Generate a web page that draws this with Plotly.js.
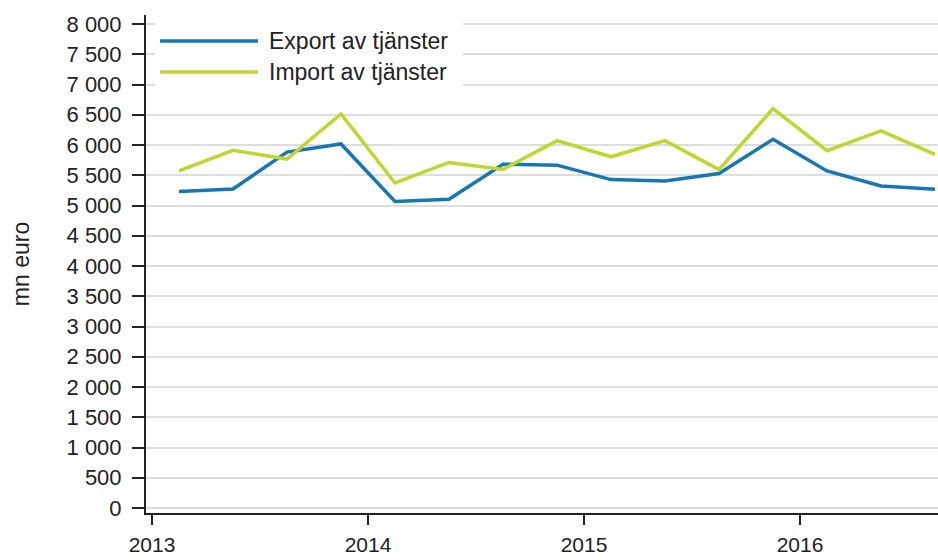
<!DOCTYPE html>
<html>
<head>
<meta charset="utf-8">
<script src="https://cdn.plot.ly/plotly-3.0.1.min.js"></script>
<style>html,body{margin:0;padding:0;background:#fff;}#chart{width:938px;height:560px;}</style>
</head>
<body>
<div id="chart"></div>
<script>
var quarters = ["2013Q1","2013Q2","2013Q3","2013Q4","2014Q1","2014Q2","2014Q3","2014Q4","2015Q1","2015Q2","2015Q3","2015Q4","2016Q1","2016Q2","2016Q3"];
var exportValues = [5233, 5272, 5883, 6017, 5067, 5105, 5683, 5667, 5428, 5405, 5528, 6095, 5572, 5322, 5267];
var importValues = [5572, 5912, 5767, 6512, 5372, 5712, 5595, 6072, 5805, 6072, 5595, 6600, 5905, 6233, 5845];
var seriesNames = ["Export av tjänster", "Import av tjänster"];
var yearTicks = [2013, 2014, 2015, 2016];
var yearLabels = ["2013", "2014", "2015", "2016"];

function quarterToX(q) {
  var yr = parseInt(q.slice(0, 4), 10);
  var qn = parseInt(q.slice(5), 10);
  return yr + (qn - 0.5) / 4;
}
var xVals = quarters.map(quarterToX);

var colors = ["#1777b5", "#bfd62f"];
var FONT = "Liberation Sans, Arial, sans-serif";

var L = 146, R = 0, T = 15, B = 47, W = 938, H = 560;
var pw = W - L - R, ph = H - T - B;
function px(x) { return (x - L) / pw; }
function py(y) { return (H - B - y) / ph; }

var traces = [
  {x: xVals, y: exportValues, name: seriesNames[0], type: "scatter", mode: "lines",
   line: {color: colors[0], width: 3.5}, hoverinfo: "x+y"},
  {x: xVals, y: importValues, name: seriesNames[1], type: "scatter", mode: "lines",
   line: {color: colors[1], width: 3.5}, hoverinfo: "x+y"}
];

var legendRows = [41, 72];
var shapes = [
  {type: "rect", xref: "paper", yref: "paper", x0: px(155), x1: px(463), y0: py(90), y1: py(18),
   fillcolor: "#ffffff", line: {width: 0}, layer: "above"}
];
var annotations = [];
seriesNames.forEach(function (n, i) {
  shapes.push({type: "line", xref: "paper", yref: "paper", x0: px(160), x1: px(258),
    y0: py(legendRows[i]), y1: py(legendRows[i]), line: {color: colors[i], width: 3.5}, layer: "above"});
  annotations.push({xref: "paper", yref: "paper", x: px(267), y: py(legendRows[i]),
    xanchor: "left", yanchor: "middle", showarrow: false, text: n,
    font: {family: FONT, size: 23, color: "#222"}});
});

var layout = {
  width: W, height: H,
  margin: {l: L, r: R, t: T, b: B, pad: 0},
  paper_bgcolor: "#fff", plot_bgcolor: "#fff",
  separators: ", ",
  showlegend: false,
  font: {family: FONT, size: 22, color: "#222"},
  xaxis: {
    range: [2013 - 6/216, 2013 + 786/216],
    tickvals: yearTicks, ticktext: yearLabels,
    showgrid: false, zeroline: false,
    showline: true, linecolor: "#222", linewidth: 2,
    ticks: "outside", ticklen: 10, tickwidth: 2, tickcolor: "#222",
    ticklabelstandoff: 2,
    tickfont: {family: FONT, size: 21, color: "#222"},
    fixedrange: true
  },
  yaxis: {
    range: [-82.6, 8148.8],
    tick0: 0, dtick: 500,
    tickformat: ",d", separatethousands: true,
    showgrid: true, gridcolor: "#dddddd", gridwidth: 2,
    zeroline: false,
    showline: true, linecolor: "#222", linewidth: 2,
    ticks: "outside", ticklen: 12, tickwidth: 2, tickcolor: "#222",
    ticklabelstandoff: 6,
    tickfont: {family: FONT, size: 22, color: "#222"},
    title: {text: "mn euro", font: {family: FONT, size: 23, color: "#222"}, standoff: 30},
    fixedrange: true
  },
  shapes: shapes,
  annotations: annotations
};

Plotly.newPlot("chart", traces, layout, {displayModeBar: false, staticPlot: true});
</script>
</body>
</html>
